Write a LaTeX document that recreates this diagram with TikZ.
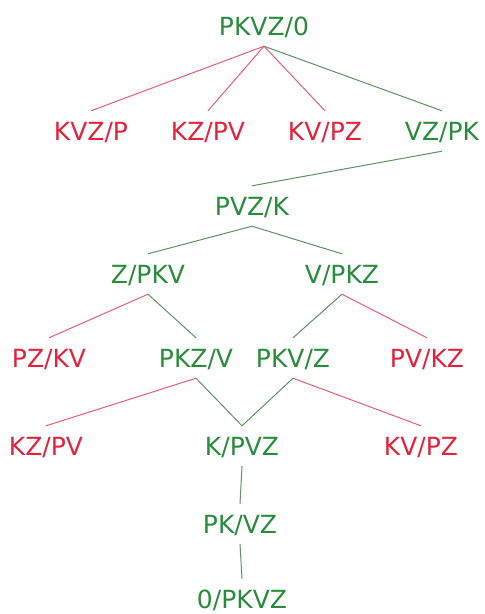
\documentclass[tikz,border=0pt]{standalone}
\usepackage{fontspec}
\setmainfont{DejaVu Sans}
\definecolor{tgreen}{RGB}{40,140,60}
\definecolor{tred}{RGB}{225,35,60}
\definecolor{lgreen}{RGB}{95,145,105}
\definecolor{lred}{RGB}{232,95,115}
\begin{document}
\begin{tikzpicture}[x=1pt,y=-1pt,
  st/.style={font=\fontsize{25}{25}\selectfont, inner xsep=0pt, inner ysep=11pt,
             text height=18pt, text depth=0pt, anchor=base},
  ok/.style={st, text=tgreen},
  bad/.style={st, text=tred},
  gl/.style={draw=lgreen, line width=1pt},
  rl/.style={draw=lred, line width=1pt}]
\useasboundingbox (0,0) rectangle (485,614);
% row 0
\node[ok]  (root) at (264,35)  {PKVZ/0};
% row 1
\node[bad] (a1) at (91,140)  {KVZ/P};
\node[bad] (a2) at (208,140) {KZ/PV};
\node[bad] (a3) at (325,140) {KV/PZ};
\node[ok]  (a4) at (442,140) {VZ/PK};
% row 2
\node[ok]  (b1) at (252,215) {PVZ/K};
% row 3
\node[ok]  (c1) at (148,283) {Z/PKV};
\node[ok]  (c2) at (342,283) {V/PKZ};
% row 4
\node[bad] (d1) at (49,367)  {PZ/KV};
\node[ok]  (d2) at (196,367) {PKZ/V};
\node[ok]  (d3) at (293,367) {PKV/Z};
\node[bad] (d4) at (427,367) {PV/KZ};
% row 5
\node[bad] (e1) at (46,455)  {KZ/PV};
\node[ok]  (e2) at (242,455) {K/PVZ};
\node[bad] (e3) at (421,455) {KV/PZ};
% row 6
\node[ok]  (f1) at (240,533) {PK/VZ};
% row 7
\node[ok]  (g1) at (242,608) {0/PKVZ};
% connectors
\draw[rl] (root.south) -- (a1.north);
\draw[rl] (root.south) -- (a2.north);
\draw[rl] (root.south) -- (a3.north);
\draw[gl] (root.south) -- (a4.north);
\draw[gl] (a4.south) -- (b1.north);
\draw[gl] (b1.south) -- (c1.north);
\draw[gl] (b1.south) -- (c2.north);
\draw[rl] (c1.south) -- (d1.north);
\draw[gl] (c1.south) -- (d2.north);
\draw[gl] (c2.south) -- (d3.north);
\draw[rl] (c2.south) -- (d4.north);
\draw[rl] (d2.south) -- (e1.north);
\draw[gl] (d2.south) -- (e2.north);
\draw[gl] (d3.south) -- (e2.north);
\draw[rl] (d3.south) -- (e3.north);
\draw[gl] (e2.south) -- (f1.north);
\draw[gl] (f1.south) -- (g1.north);
\end{tikzpicture}
\end{document}
